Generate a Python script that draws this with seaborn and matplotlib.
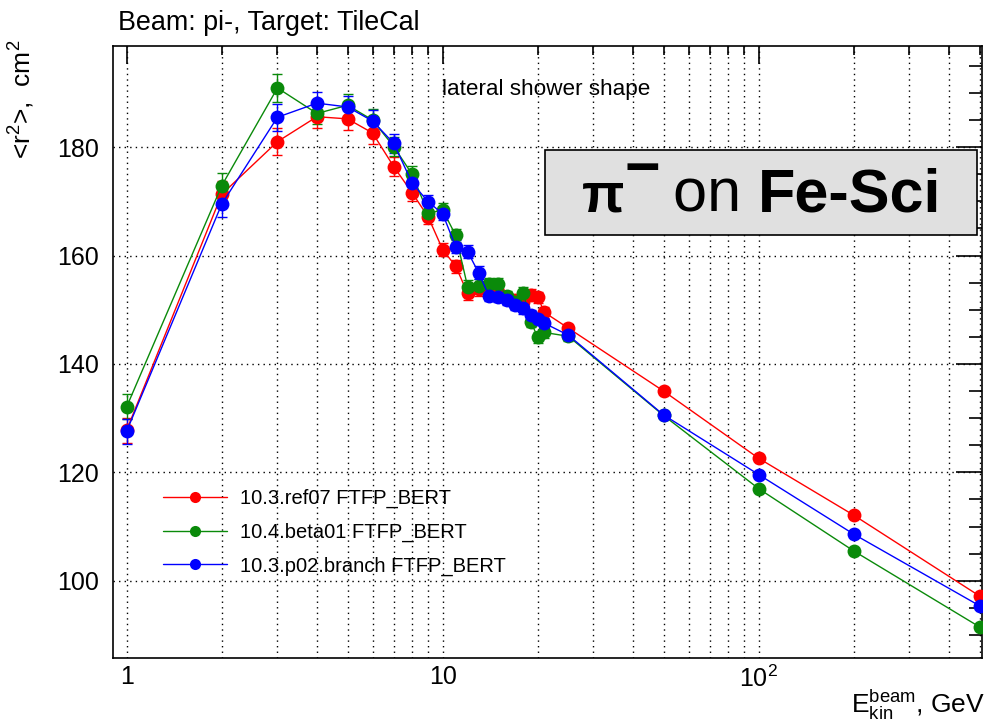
import numpy as np
import pandas as pd
import matplotlib
matplotlib.use("Agg")
import matplotlib.pyplot as plt
import seaborn as sns
from matplotlib.ticker import FixedLocator, FixedFormatter, LogLocator, NullFormatter, MultipleLocator
from matplotlib.patches import Rectangle

# Beam kinetic energy, GeV
energy = [1, 2, 3, 4, 5, 6, 7, 8, 9, 10, 11, 12, 13, 14, 15, 16, 17, 18, 19, 20, 21,
          25, 50, 100, 200, 500]

# Mean squared lateral radius <r^2>, cm^2
r2_ref07 = [127.8, 171.3, 181.0, 185.6, 185.2, 182.6, 176.4, 171.6, 167.1, 161.1, 158.0,
            153.0, 153.8, 153.5, 153.2, 152.3, 151.8, 151.5, 152.8, 152.3, 149.5,
            146.6, 135.0, 122.6, 112.1, 97.2]
r2_beta01 = [132.1, 172.9, 190.9, 186.2, 187.7, 185.0, 180.1, 175.0, 167.8, 168.4, 163.7,
             154.2, 154.4, 154.8, 154.8, 152.5, 151.5, 153.1, 147.8, 144.9, 145.8,
             145.1, 130.5, 117.0, 105.5, 91.5]
r2_p02 = [127.6, 169.5, 185.5, 188.1, 187.4, 184.8, 180.7, 173.4, 169.9, 167.7, 161.6,
          160.7, 156.8, 152.6, 152.4, 151.8, 150.9, 150.3, 149.0, 148.3, 147.5,
          145.3, 130.6, 119.6, 108.6, 95.4]
# Statistical uncertainty on <r^2>
r2_err = [2.3, 2.4, 2.5, 2.0, 2.0, 2.0, 1.8, 1.5, 1.3, 1.2, 1.2, 1.2, 1.2, 1.0, 1.0, 1.0,
          1.0, 1.0, 1.0, 1.0, 1.0, 0.8, 0.4, 0.4, 0.4, 0.4]

builds = ["10.3.ref07 FTFP_BERT", "10.4.beta01 FTFP_BERT", "10.3.p02.branch FTFP_BERT"]
build_colors = ["#ff0000", "#0a8a0a", "#0000ff"]

df = pd.concat([
    pd.DataFrame({"E": energy, "r2": vals, "err": r2_err, "build": name})
    for name, vals in zip(builds, [r2_ref07, r2_beta01, r2_p02])
], ignore_index=True)

sns.set_theme(style="white")
plt.rcParams["font.family"] = ["Liberation Sans", "DejaVu Sans"]
plt.rcParams["mathtext.fontset"] = "custom"
plt.rcParams["mathtext.rm"] = "Liberation Sans"
plt.rcParams["mathtext.it"] = "Liberation Sans:italic"
plt.rcParams["mathtext.bf"] = "Liberation Sans:bold"
for key in ["text.color", "axes.labelcolor", "xtick.color", "ytick.color"]:
    plt.rcParams[key] = "black"

fig = plt.figure(figsize=(9.91, 7.24), dpi=100)
ax = fig.add_axes([0.1137, 0.0907, 0.8769, 0.8462])

palette = dict(zip(builds, build_colors))
sns.lineplot(data=df, x="E", y="r2", hue="build", hue_order=builds, palette=palette,
             marker="o", markersize=10, markeredgewidth=0, linewidth=1,
             estimator=None, sort=True, ax=ax, zorder=3)

for name in builds:
    sub = df[df["build"] == name]
    ax.errorbar(sub["E"], sub["r2"], yerr=sub["err"], fmt="none",
                ecolor=palette[name], elinewidth=1, capsize=3.5, capthick=1, zorder=2)

ax.set_xscale("log")
ax.set_xlim(0.903, 508)
ax.set_ylim(85.7, 198.7)

ax.xaxis.set_major_locator(FixedLocator([1, 10, 100]))
ax.xaxis.set_major_formatter(FixedFormatter(["1", "10", "$10^{2}$"]))
ax.xaxis.set_minor_locator(LogLocator(base=10, subs=np.arange(2, 10), numticks=20))
ax.xaxis.set_minor_formatter(NullFormatter())
ax.yaxis.set_major_locator(MultipleLocator(20))
ax.yaxis.set_minor_locator(MultipleLocator(5))

ax.tick_params(which="both", direction="in", top=True, right=True, color="black",
               width=1.2)
ax.tick_params(axis="y", which="major", length=18.5, pad=10, labelsize=18)
ax.tick_params(axis="y", which="minor", length=9.5)
ax.tick_params(axis="x", which="major", length=13, pad=5, labelsize=18)
ax.tick_params(axis="x", which="minor", length=6.5)

ax.set_axisbelow(True)
dot = (0, (1, 3))
ax.grid(True, which="both", axis="x", color="black", linestyle=dot, linewidth=1)
ax.grid(True, which="major", axis="y", color="black", linestyle=dot, linewidth=1)
for s in ax.spines.values():
    s.set_color("black")
    s.set_linewidth(1.2)

ax.set_xlabel("")
ax.set_ylabel("")
fig.text(0.9935, 0.015, r"E$_{\rm kin}^{\rm beam}$, GeV", ha="right", va="baseline",
         fontsize=19)
fig.text(0.022, 0.946, r"<r$^{2}$>,  cm$^{2}$", rotation=90, ha="center", va="top",
         fontsize=19)

fig.text(0.119, 0.9586, "Beam: pi-, Target: TileCal", ha="left", va="baseline",
         fontsize=19.4)
ax.text(0.379, 0.928, "lateral shower shape", transform=ax.transAxes, ha="left",
        va="center", fontsize=16.2)

# Labelled panel with the beam particle and calorimeter material
ax.add_patch(Rectangle((0.550, 0.6754), 0.436, 0.1174, transform=fig.transFigure,
                       facecolor="#e0e0e0", edgecolor="black", linewidth=1.2,
                       zorder=5, clip_on=False))
base_y = 0.7075
t_pi = ax.text(0.587, base_y, "π", transform=fig.transFigure, fontsize=40,
               fontweight="bold", ha="left", va="baseline", zorder=6)
t_sup = ax.annotate("−", xy=(1, base_y), xycoords=(t_pi, "figure fraction"),
                    xytext=(0, 18), textcoords="offset points", fontsize=44,
                    fontweight="bold", ha="left", va="baseline", zorder=6)
t_on = ax.annotate(" on ", xy=(1, base_y), xycoords=(t_sup, "figure fraction"),
                   xytext=(-3, 0), textcoords="offset points",
                   fontsize=44, ha="left", va="baseline", zorder=6)
ax.annotate("Fe-Sci", xy=(1, base_y), xycoords=(t_on, "figure fraction"),
            fontsize=44, fontweight="bold", ha="left", va="baseline", zorder=6)

leg = ax.legend(loc="upper left", bbox_to_anchor=(163 / 991, 1 - 489 / 724),
                bbox_transform=fig.transFigure, frameon=False, fontsize=14.5,
                handlelength=3.2, handletextpad=0.6, labelspacing=0.72,
                borderpad=0, borderaxespad=0)
for h in leg.legend_handles:
    h.set_markersize(8)

fig.savefig("out.png", dpi=100)
